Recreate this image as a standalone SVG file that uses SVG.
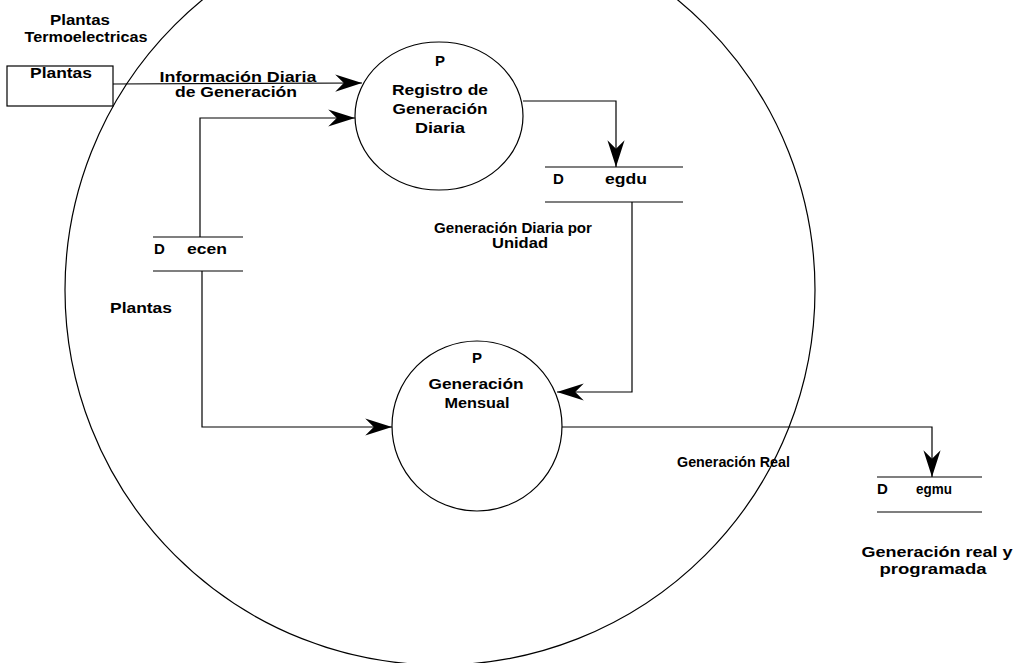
<svg xmlns="http://www.w3.org/2000/svg" width="1016" height="663" viewBox="0 0 1016 663">
<defs>
<style>
text{font-family:"Liberation Sans",Arial,sans-serif;font-size:15px;font-weight:bold;fill:#000}
.ln{fill:none;stroke:#000;stroke-width:1.2}
.sh{fill:#fff;stroke:#000;stroke-width:1.2}
</style>
<marker id="ah" markerUnits="userSpaceOnUse" markerWidth="30" markerHeight="20" viewBox="-26 -9 28 18" refX="0" refY="0" orient="auto">
<path d="M0,0 L-25,-8 L-17,0 L-25,8 Z" fill="#000"/>
</marker>
</defs>
<rect width="1016" height="663" fill="#fff"/>
<g id="boundary">
<circle cx="440" cy="290" r="375" class="ln"/>
</g>
<g id="connectors">
<path class="ln" d="M113,84 L362,83" marker-end="url(#ah)"/>
<path class="ln" d="M200,237 L200,118 L355,118" marker-end="url(#ah)"/>
<path class="ln" d="M523,101 L616,101 L616,167" marker-end="url(#ah)"/>
<path class="ln" d="M632,202 L632,392 L557,392" marker-end="url(#ah)"/>
<path class="ln" d="M202,271 L202,427 L392,427" marker-end="url(#ah)"/>
<path class="ln" d="M562,427 L932,427 L932,477" marker-end="url(#ah)"/>
</g>
<g id="plantas-ext">
<text x="80" y="25" text-anchor="middle" textLength="60" lengthAdjust="spacingAndGlyphs">Plantas</text>
<text x="86" y="42" text-anchor="middle" textLength="123" lengthAdjust="spacingAndGlyphs">Termoelectricas</text>
<rect x="7" y="66" width="106" height="40" class="sh"/>
<text x="61" y="78" text-anchor="middle" textLength="62" lengthAdjust="spacingAndGlyphs">Plantas</text>
</g>
<g id="label-info">
<text x="238" y="82" text-anchor="middle" textLength="157" lengthAdjust="spacingAndGlyphs">Información Diaria</text>
<text x="236" y="97" text-anchor="middle" textLength="122" lengthAdjust="spacingAndGlyphs">de Generación</text>
</g>
<g id="p-registro">
<ellipse cx="439" cy="116" rx="84" ry="74" class="sh"/>
<text x="440" y="66" text-anchor="middle">P</text>
<text x="440" y="95" text-anchor="middle" textLength="96" lengthAdjust="spacingAndGlyphs">Registro de</text>
<text x="440" y="114" text-anchor="middle" textLength="95" lengthAdjust="spacingAndGlyphs">Generación</text>
<text x="440" y="133" text-anchor="middle" textLength="50" lengthAdjust="spacingAndGlyphs">Diaria</text>
</g>
<g id="d-egdu">
<path class="ln" d="M545,167 L683,167 M545,202 L683,202"/>
<text x="553" y="184">D</text>
<text x="605" y="184" textLength="42" lengthAdjust="spacingAndGlyphs">egdu</text>
</g>
<g id="label-gdu">
<text x="513" y="233" text-anchor="middle" textLength="158" lengthAdjust="spacingAndGlyphs">Generación Diaria por</text>
<text x="520" y="248" text-anchor="middle" textLength="56" lengthAdjust="spacingAndGlyphs">Unidad</text>
</g>
<g id="d-ecen">
<path class="ln" d="M153,237 L243,237 M153,271 L243,271"/>
<text x="154" y="254">D</text>
<text x="187" y="254" textLength="40" lengthAdjust="spacingAndGlyphs">ecen</text>
</g>
<g id="label-plantas">
<text x="110" y="313" textLength="62" lengthAdjust="spacingAndGlyphs">Plantas</text>
</g>
<g id="p-mensual">
<circle cx="477" cy="426" r="85" class="sh"/>
<text x="477" y="363" text-anchor="middle">P</text>
<text x="476" y="389" text-anchor="middle" textLength="95" lengthAdjust="spacingAndGlyphs">Generación</text>
<text x="477" y="408" text-anchor="middle" textLength="65" lengthAdjust="spacingAndGlyphs">Mensual</text>
</g>
<g id="label-real">
<text x="677" y="467" textLength="113" lengthAdjust="spacingAndGlyphs">Generación Real</text>
</g>
<g id="d-egmu">
<path class="ln" d="M877,477 L982,477 M877,512 L982,512"/>
<text x="877" y="494">D</text>
<text x="916" y="494" textLength="36" lengthAdjust="spacingAndGlyphs">egmu</text>
</g>
<g id="label-egmu">
<text x="937" y="557" text-anchor="middle" textLength="151" lengthAdjust="spacingAndGlyphs">Generación real y</text>
<text x="933" y="574" text-anchor="middle" textLength="107" lengthAdjust="spacingAndGlyphs">programada</text>
</g>
</svg>
